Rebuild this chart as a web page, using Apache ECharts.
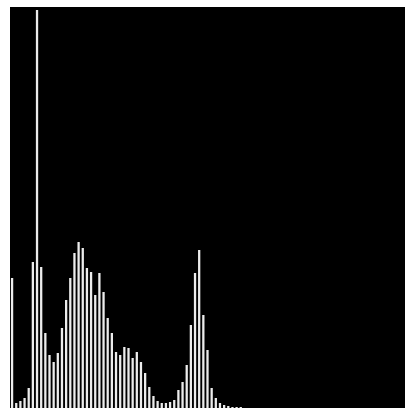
<!DOCTYPE html>
<html>
<head>
<meta charset="utf-8">
<title>Histogram</title>
<script src="https://cdn.jsdelivr.net/npm/echarts@6/dist/echarts.min.js"></script>
<style>
  html, body { margin: 0; padding: 0; background: #ffffff; }
  #chart { width: 405px; height: 408px; }
</style>
</head>
<body>
<div id="chart"></div>
<script>
// Grey-level histogram: one count per intensity bin
const counts = [
  130, 5, 7, 10, 20, 146, 398, 141, 75, 53,
  46, 55, 80, 108, 130, 155, 166, 160, 140, 136,
  113, 135, 116, 90, 75, 56, 53, 61, 60, 50,
  56, 46, 35, 21, 12, 7, 5, 5, 6, 8,
  18, 26, 43, 83, 135, 158, 93, 58, 20, 10,
  5, 3, 2, 1, 1, 1, 0, 0, 0, 0,
  0, 0, 0, 0, 0, 0, 0, 0, 0, 0,
  0, 0, 0, 0, 0, 0, 0, 0, 0, 0,
  0, 0, 0, 0, 0, 0, 0, 0, 0, 0,
  0, 0, 0, 0, 0
];
const bins = counts.map((_, i) => String(i));
const countMax = 401;

const chart = echarts.init(document.getElementById('chart'), null, { renderer: 'canvas' });
chart.setOption({
  animation: false,
  backgroundColor: '#ffffff',
  grid: {
    left: 10, right: 0, top: 7, bottom: 0,
    show: true, backgroundColor: '#000000', borderWidth: 0
  },
  xAxis: {
    type: 'category',
    data: bins,
    boundaryGap: true,
    axisLine: { show: false },
    axisTick: { show: false },
    axisLabel: { show: false },
    splitLine: { show: false }
  },
  yAxis: {
    type: 'value',
    min: 0,
    max: countMax,
    axisLine: { show: false },
    axisTick: { show: false },
    axisLabel: { show: false },
    splitLine: { show: false }
  },
  series: [{
    type: 'bar',
    data: counts,
    barCategoryGap: '45%',
    itemStyle: { color: '#ececec' }
  }]
});
</script>
</body>
</html>
